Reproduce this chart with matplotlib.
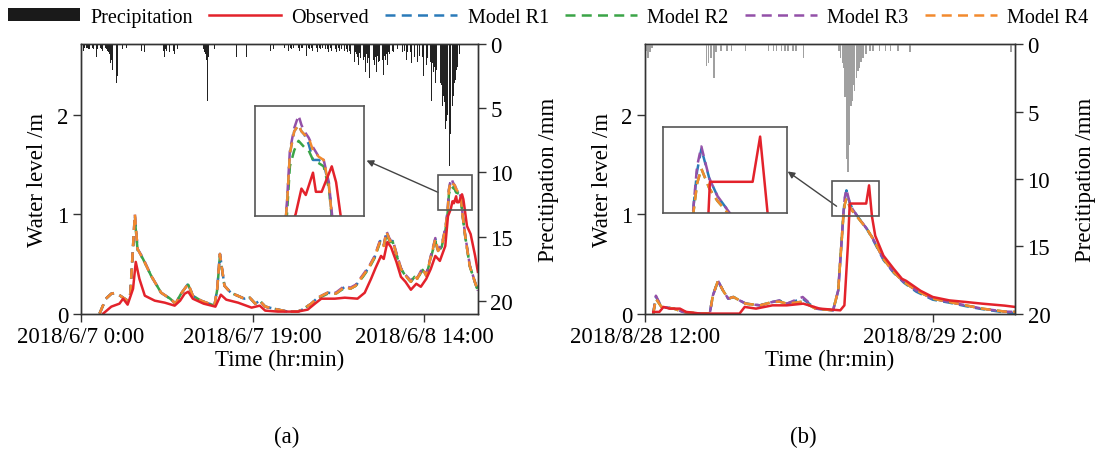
"""
Water level and precipitation for two storm events, observed vs four models.
"""
import matplotlib
matplotlib.use("Agg")
import matplotlib.pyplot as plt
from matplotlib.patches import Rectangle, Patch
from matplotlib.lines import Line2D

plt.rcParams['font.family'] = ['Liberation Serif', 'DejaVu Serif']
plt.rcParams['font.size'] = 16.5

# ---- event (a): hours after 2018/6/7 0:00 ----
a_rain_t = [0.05, 0.15, 0.3, 0.4, 0.5, 0.65, 0.8, 0.9, 1.0, 1.15, 1.3, 1.45, 1.6, 1.75,
            1.9, 2.05, 2.2, 2.35, 2.45,
            2.75, 2.9, 3.0, 3.1, 3.2, 3.3, 3.4, 3.5, 3.6, 3.7, 3.8, 3.9, 4.0, 4.1, 4.25,
            4.6, 5.1, 5.8, 6.7, 7.1,
            8.9, 9.0, 9.1, 9.2, 9.3, 9.4, 9.5, 9.65, 9.8, 9.9, 10.0, 10.1, 10.2, 10.3,
            10.4, 10.7,
            13.6, 13.7, 13.8, 13.9, 14.0, 14.1, 14.2, 14.3, 14.8,
            17.2, 18.3, 21.0, 21.3,
            22.5, 22.8, 23.0, 23.2, 23.3, 23.5, 23.6, 23.8, 23.9, 24.1, 24.2, 24.4,
            24.5, 24.7, 24.8, 25.0, 25.2, 25.3, 25.5, 25.6, 25.8, 25.9, 26.1, 26.2,
            26.4, 26.5, 26.7, 26.8, 27.0, 27.1, 27.3, 27.4, 27.6, 27.7, 27.9, 28.0,
            28.2, 28.3, 28.5, 28.6, 28.8, 28.9, 29.1, 29.2, 29.4, 29.5, 29.7, 29.8,
            30.0, 30.1, 30.2, 30.3, 30.4, 30.5, 30.6, 30.7, 30.8, 30.9, 31.0, 31.1,
            31.2, 31.3, 31.4, 31.5, 31.6, 31.7, 31.8, 31.9, 32.0, 32.1, 32.2, 32.3,
            32.4, 32.5, 32.6, 32.7, 32.8, 32.9, 33.0, 33.1, 33.2, 33.3, 33.4, 33.5,
            33.6, 33.7, 33.8, 33.9, 34.0, 34.1, 34.2, 34.3, 34.45, 34.6,
            35.0, 35.2, 35.4, 35.6, 35.8, 36.0, 36.15, 36.3, 36.45, 36.6, 36.75,
            36.9, 37.05, 37.2, 37.3, 37.45, 37.6, 37.75, 37.9, 38.05, 38.2, 38.35,
            38.5, 38.65, 38.75, 38.9, 39.0, 39.1, 39.2, 39.3, 39.4, 39.5, 39.6,
            39.7, 39.8, 39.9, 40.0, 40.1, 40.15, 40.25, 40.3, 40.4, 40.45, 40.55,
            40.6, 40.7, 40.8, 40.9, 40.95, 41.05, 41.1, 41.2, 41.25, 41.35, 41.4,
            41.5, 41.55, 41.65, 41.7, 41.85]
a_rain = [0.4, 0.3, 0.5, 0.3, 0.5, 0.3, 0.3, 0.4, 0.4, 0.3, 0.3, 0.4, 0.5, 1.0,
          0.4, 0.3, 0.3, 0.4, 0.5,
          0.3, 0.4, 0.5, 0.6, 0.8, 1.5, 1.2, 2.0, 2.5, 4.5, 7.9, 5.5, 3.0, 2.5, 0.8,
          0.4, 0.3, 0.5, 0.5, 0.6,
          0.5, 0.4, 0.6, 0.5, 1.0, 0.4, 0.5, 0.4, 0.6, 0.4, 0.4, 0.6, 1.5, 0.5,
          0.8, 0.4,
          0.4, 0.6, 0.8, 1.2, 4.4, 1.0, 0.6, 0.5, 0.4,
          1.0, 1.0, 0.5, 0.4,
          0.3, 0.3, 0.5, 0.3, 0.4, 0.3, 0.5, 0.3, 0.4, 0.3, 0.5, 0.3,
          0.3, 0.4, 0.5, 0.9, 0.3, 0.4, 0.3, 0.5, 0.3, 0.4, 0.3, 0.6,
          0.3, 0.4, 0.3, 0.5, 0.3, 0.4, 0.4, 0.6, 0.3, 0.5, 0.3, 0.4,
          0.4, 0.6, 0.3, 0.5, 0.4, 0.7, 0.4, 0.5, 0.4, 0.6, 0.5, 0.8,
          0.6, 1.0, 0.7, 1.4, 0.6, 0.8, 1.0, 1.6, 0.7, 1.1, 0.8, 2.0,
          0.9, 1.2, 1.0, 2.2, 0.8, 1.5, 1.1, 2.6, 1.2, 1.8, 1.0, 3.0,
          1.2, 1.6, 1.0, 2.2, 0.9, 1.4, 1.3, 3.5, 1.0, 1.8, 1.2, 2.4,
          0.9, 1.2, 0.8, 1.6, 0.6, 0.8, 0.5, 1.2, 0.5, 0.6,
          0.4, 0.5, 0.4, 0.6, 0.5, 1.2, 0.6, 0.8, 0.6, 1.5, 0.7,
          1.0, 0.8, 1.4, 2.0, 0.9, 1.3, 1.0, 2.5, 1.2, 1.6, 1.1,
          2.0, 1.4, 4.4, 1.5, 2.2, 1.8, 3.0, 2.0, 2.5, 2.8, 4.0,
          2.6, 3.0, 3.2, 4.8, 4.0, 5.5, 4.5, 6.6, 5.0, 6.0, 5.5,
          7.2, 6.5, 9.5, 7.0, 6.0, 5.2, 4.8, 4.0, 3.5, 3.0, 2.8,
          2.4, 2.0, 1.8, 1.5, 0.8]

a_obs_t = [2.5, 3.4, 4.3, 4.7, 5.2, 5.8, 6.1, 6.5, 7.1, 8.2, 9.3, 10.4, 11.0,
           11.5, 11.9, 12.4, 13.6, 14.9, 15.5, 16.1, 17.4, 18.9, 19.8, 20.4,
           21.8, 24.0, 25.1, 25.9, 26.6, 28.1, 29.2, 30.6, 31.4, 32.1, 32.6,
           33.2, 33.5, 33.9, 34.3, 34.9, 35.4, 35.9, 36.5, 37.1, 37.6, 38.2,
           38.7, 39.2, 39.7, 40.3, 40.6, 40.9, 41.1, 41.25, 41.5, 41.6, 41.8,
           42.15, 42.3, 42.45, 42.7, 43.1, 43.6, 43.9]
a_obs = [0.0, 0.07, 0.10, 0.15, 0.09, 0.25, 0.52, 0.35, 0.18, 0.13, 0.11, 0.08, 0.13,
         0.20, 0.22, 0.15, 0.10, 0.07, 0.19, 0.14, 0.11, 0.06, 0.08, 0.03,
         0.02, 0.02, 0.04, 0.10, 0.15, 0.15, 0.16, 0.15, 0.21, 0.35, 0.46,
         0.58, 0.55, 0.72, 0.67, 0.52, 0.37, 0.32, 0.24, 0.30, 0.27, 0.35,
         0.45, 0.58, 0.53, 0.68, 0.98, 1.05, 1.13, 1.11, 1.18, 1.12, 1.12,
         1.20, 1.15, 1.05, 0.88, 0.80, 0.58, 0.42]

a_mod_t = [2.1, 2.8, 3.4, 3.9, 4.7, 5.2, 5.5, 5.8, 6.0, 6.3, 6.9, 7.8, 8.9, 9.9,
           10.5, 11.1, 11.9, 12.4, 13.3, 14.8, 15.1, 15.4, 15.9, 16.6, 18.1,
           18.7, 19.3, 19.8, 20.4, 21.8, 22.9, 24.0, 24.5, 25.5, 26.2, 27.3,
           28.2, 29.2, 29.8, 30.4, 31.2, 31.9, 32.5, 33.1, 33.5, 33.8, 34.2,
           34.5, 34.9, 35.4, 35.9, 36.5, 36.9, 37.2, 37.8, 38.2, 38.7, 39.2,
           39.5, 39.9, 40.3, 40.5, 40.6, 40.7, 40.85, 41.0, 41.1, 41.2, 41.35,
           41.5, 41.7, 41.87, 42.05, 42.2, 42.5, 43.0, 43.6, 43.9]
a_r1 = [0.0, 0.15, 0.20, 0.21, 0.16, 0.13, 0.20, 0.68, 0.99, 0.65, 0.55, 0.38, 0.21, 0.15,
        0.10, 0.20, 0.30, 0.18, 0.13, 0.08, 0.25, 0.60, 0.28, 0.21, 0.15,
        0.16, 0.10, 0.13, 0.07, 0.04, 0.02, 0.02, 0.04, 0.10, 0.16, 0.21,
        0.20, 0.27, 0.25, 0.28, 0.38, 0.47, 0.57, 0.73, 0.68, 0.82, 0.73,
        0.73, 0.60, 0.45, 0.38, 0.32, 0.38, 0.35, 0.45, 0.38, 0.57, 0.75,
        0.63, 0.68, 0.85, 0.98, 1.08, 1.24, 1.31, 1.33, 1.31, 1.30, 1.27,
        1.22, 1.22, 1.21, 1.14, 1.00, 0.78, 0.48, 0.31, 0.23]
a_r2 = [0.0, 0.15, 0.20, 0.21, 0.16, 0.13, 0.20, 0.66, 0.95, 0.64, 0.55, 0.38, 0.21, 0.15,
        0.10, 0.20, 0.29, 0.18, 0.13, 0.08, 0.24, 0.58, 0.28, 0.21, 0.15,
        0.16, 0.10, 0.13, 0.07, 0.04, 0.02, 0.02, 0.04, 0.10, 0.15, 0.20,
        0.20, 0.26, 0.25, 0.28, 0.37, 0.46, 0.56, 0.72, 0.67, 0.80, 0.72,
        0.72, 0.59, 0.45, 0.38, 0.32, 0.37, 0.35, 0.44, 0.38, 0.56, 0.73,
        0.62, 0.67, 0.83, 0.96, 1.05, 1.20, 1.25, 1.28, 1.27, 1.26, 1.25,
        1.22, 1.21, 1.20, 1.13, 1.00, 0.78, 0.48, 0.31, 0.23]
a_r3 = [0.0, 0.15, 0.20, 0.21, 0.16, 0.13, 0.20, 0.68, 1.00, 0.65, 0.56, 0.38, 0.21, 0.15,
        0.10, 0.20, 0.30, 0.18, 0.13, 0.08, 0.25, 0.60, 0.28, 0.21, 0.15,
        0.16, 0.10, 0.13, 0.07, 0.04, 0.02, 0.02, 0.04, 0.10, 0.16, 0.21,
        0.21, 0.28, 0.26, 0.29, 0.39, 0.48, 0.58, 0.74, 0.69, 0.83, 0.74,
        0.74, 0.61, 0.46, 0.39, 0.33, 0.38, 0.36, 0.46, 0.39, 0.58, 0.76,
        0.64, 0.69, 0.86, 0.99, 1.09, 1.25, 1.32, 1.36, 1.33, 1.31, 1.29,
        1.26, 1.23, 1.22, 1.15, 1.01, 0.79, 0.49, 0.31, 0.23]
a_r4 = [0.0, 0.15, 0.20, 0.21, 0.16, 0.13, 0.20, 0.68, 1.00, 0.65, 0.55, 0.38, 0.21, 0.15,
        0.10, 0.20, 0.30, 0.18, 0.13, 0.08, 0.25, 0.60, 0.28, 0.21, 0.15,
        0.16, 0.10, 0.13, 0.07, 0.04, 0.02, 0.02, 0.04, 0.10, 0.16, 0.21,
        0.20, 0.27, 0.25, 0.28, 0.38, 0.47, 0.57, 0.73, 0.68, 0.82, 0.73,
        0.73, 0.60, 0.45, 0.38, 0.32, 0.38, 0.35, 0.45, 0.38, 0.57, 0.75,
        0.63, 0.68, 0.85, 0.98, 1.08, 1.24, 1.31, 1.33, 1.31, 1.30, 1.29,
        1.25, 1.23, 1.22, 1.14, 1.00, 0.78, 0.48, 0.31, 0.23]

# ---- event (b): hours after 2018/8/28 12:00 ----
b_rain_t = [0.05, 0.15, 0.25, 0.35,
            3.0, 3.1, 3.2, 3.35, 3.45,
            3.7, 4.0, 4.2, 4.9,
            6.0, 6.25, 6.4, 6.65, 6.8, 6.95, 7.2, 7.35, 7.7,
            9.45, 9.52, 9.6, 9.65, 9.72, 9.8, 9.87, 9.95, 10.03, 10.1, 10.15,
            10.2, 10.3, 10.35, 10.4, 10.5, 10.6, 10.75,
            10.95, 11.1, 11.4, 11.7, 11.95, 12.3, 12.9, 17.8]
b_rain = [0.5, 1.0, 0.6, 0.3,
          1.6, 1.4, 1.0, 2.5, 0.6,
          0.5, 0.5, 0.5, 0.5,
          0.5, 0.5, 0.5, 0.5, 0.5, 0.5, 0.5, 0.5, 1.0,
          0.5, 1.0, 1.4, 1.8, 3.9, 8.5, 9.5, 7.5, 4.6, 4.2, 3.0,
          3.5, 2.5, 2.0, 1.8, 1.3, 1.0, 0.7,
          0.5, 0.5, 0.5, 0.5, 0.5, 0.5, 0.6, 0.6]

b_obs_t = [0.4, 0.7, 0.9, 1.2, 1.7, 2.0, 2.7, 4.6, 4.85, 5.4, 6.2, 6.9, 7.7, 8.5,
           9.5, 9.7, 9.87, 9.96, 10.76, 10.9, 11.04, 11.2, 11.6, 12.1, 12.5,
           12.7, 13.4, 14.0, 14.8, 15.6, 16.4, 17.5, 18.0]
b_obs = [0.017, 0.017, 0.067, 0.05, 0.05, 0.017, 0.0, 0.0, 0.067, 0.05, 0.083, 0.083, 0.10, 0.05,
         0.033, 0.083, 0.683, 1.107, 1.107, 1.29, 0.98, 0.783, 0.583, 0.45, 0.35,
         0.33, 0.23, 0.167, 0.133, 0.117, 0.10, 0.08, 0.067]

b_mod_t = [0.4, 0.53, 0.8, 1.4, 1.85, 2.7, 3.15, 3.3, 3.55, 3.8, 4.05, 4.3, 4.6, 4.9,
           5.6, 6.2, 6.55, 6.9, 7.67, 8.3, 9.15, 9.4, 9.55, 9.65, 9.72, 9.8,
           9.95, 10.1, 10.3, 10.8, 11.1, 11.6, 12.1, 12.6, 13.2, 14.0, 14.8,
           15.6, 16.4, 17.5, 18.0]
b_r1 = [0.0, 0.17, 0.067, 0.05, 0.017, 0.0, 0.0, 0.18, 0.33, 0.23, 0.15, 0.167, 0.133, 0.10,
        0.083, 0.117, 0.13, 0.10, 0.15, 0.05, 0.033, 0.233, 0.683, 1.0, 1.15, 1.24,
        1.12, 1.05, 0.99, 0.85, 0.74, 0.54, 0.41, 0.31, 0.22, 0.14, 0.11,
        0.075, 0.045, 0.012, 0.005]
b_r2 = [0.0, 0.15, 0.067, 0.05, 0.017, 0.0, 0.0, 0.18, 0.33, 0.23, 0.15, 0.167, 0.133, 0.10,
        0.083, 0.117, 0.12, 0.10, 0.12, 0.05, 0.033, 0.233, 0.683, 0.98, 1.10, 1.16,
        1.08, 1.03, 0.98, 0.85, 0.75, 0.55, 0.417, 0.317, 0.233, 0.15, 0.117,
        0.083, 0.05, 0.02, 0.017]
b_r3 = [0.0, 0.18, 0.067, 0.05, 0.017, 0.0, 0.0, 0.18, 0.33, 0.23, 0.15, 0.167, 0.133, 0.10,
        0.083, 0.117, 0.133, 0.10, 0.167, 0.05, 0.033, 0.233, 0.683, 1.0, 1.17, 1.25,
        1.12, 1.05, 0.99, 0.85, 0.75, 0.55, 0.417, 0.317, 0.233, 0.15, 0.117,
        0.083, 0.05, 0.02, 0.017]
b_r4 = [0.0, 0.15, 0.067, 0.05, 0.017, 0.0, 0.0, 0.18, 0.33, 0.23, 0.15, 0.167, 0.133, 0.10,
        0.083, 0.117, 0.12, 0.10, 0.12, 0.05, 0.033, 0.233, 0.683, 0.98, 1.10, 1.16,
        1.08, 1.03, 0.98, 0.85, 0.75, 0.55, 0.417, 0.317, 0.233, 0.15, 0.117,
        0.083, 0.05, 0.02, 0.017]

a_ticks = [0, 19, 38]
a_ticklabels = ['2018/6/7 0:00', '2018/6/7 19:00', '2018/6/8 14:00']
b_ticks = [0, 14]
b_ticklabels = ['2018/8/28 12:00', '2018/8/29 2:00']

RED = '#e3222b'
MODEL_COLORS = ['#2a7ab9', '#3aa447', '#9350a8', '#f28a2e']
MODEL_NAMES = ['Model R1', 'Model R2', 'Model R3', 'Model R4']
EDGE = '#333333'


def draw_lines(ax, obs_t, obs, mod_t, models, lw=1.8):
    for vals, c in zip(models, MODEL_COLORS):
        ax.plot(mod_t, vals, color=c, lw=lw, dashes=(4, 2.5))
    ax.plot(obs_t, obs, color=RED, lw=lw)


def panel(rect, rain_t, rain, rain_color, rain_max, obs_t, obs, mod_t, models,
          xmax, ticks, ticklabels, inset_rect, box, arrow):
    ax = fig.add_axes(rect)
    draw_lines(ax, obs_t, obs, mod_t, models)
    ax.set_xlim(0, xmax)
    ax.set_ylim(0, 2.71)
    ax.set_yticks([0, 1, 2])
    ax.set_xticks(ticks)
    ax.set_xticklabels(ticklabels)
    ax.set_ylabel('Water level /m', labelpad=6)
    ax.set_xlabel('Time (hr:min)', labelpad=1)

    ax2 = ax.twinx()
    ax2.bar(rain_t, rain, width=0.075, color=rain_color, linewidth=0)
    ax2.set_ylim(rain_max, 0)
    ax2.set_yticks([0, 5, 10, 15, 20])
    ax2.set_ylabel('Precitipation /mm', labelpad=18)

    for a in (ax, ax2):
        for s in a.spines.values():
            s.set_color(EDGE)
            s.set_linewidth(1.0)
        a.tick_params(direction='out', length=6, width=1, color=EDGE, pad=3)

    # zoom box + inset
    x0, x1, y0, y1 = box
    ax.add_patch(Rectangle((x0, y0), x1 - x0, y1 - y0, fill=False,
                           ec='#555555', lw=1.2, zorder=5))
    ins = ax.inset_axes(inset_rect, transform=ax.transData)
    draw_lines(ins, obs_t, obs, mod_t, models, lw=1.8)
    ins.set_xlim(x0, x1)
    ins.set_ylim(y0, y1)
    ins.set_xticks([])
    ins.set_yticks([])
    for s in ins.spines.values():
        s.set_color('#555555')
        s.set_linewidth(1.2)
    ax.annotate('', xy=arrow[1], xytext=arrow[0],
                arrowprops=dict(arrowstyle='-|>', color='#444444', lw=1,
                                mutation_scale=10, shrinkA=0, shrinkB=0))
    return ax


fig = plt.figure(figsize=(10.96, 4.52), dpi=100)

panel([0.0735, 0.304, 0.3625, 0.596], a_rain_t, a_rain, '#222222', 21.0,
      a_obs_t, a_obs, a_mod_t, [a_r1, a_r2, a_r3, a_r4],
      43.9, a_ticks, a_ticklabels,
      [19.3, 0.985, 12.0, 1.105], (39.5, 43.26, 1.045, 1.39),
      ((39.5, 1.22), (31.6, 1.54)))

panel([0.5885, 0.304, 0.3376, 0.596], b_rain_t, b_rain, '#a0a0a0', 20.0,
      b_obs_t, b_obs, b_mod_t, [b_r1, b_r2, b_r3, b_r4],
      18.0, b_ticks, b_ticklabels,
      [0.87, 1.01, 6.03, 0.87], (9.08, 11.4, 0.98, 1.33),
      ((9.32, 1.08), (6.94, 1.43)))

fig.text(0.262, 0.033, '(a)', ha='center', va='center', fontsize=16.5)
fig.text(0.733, 0.033, '(b)', ha='center', va='center', fontsize=16.5)

handles = [Patch(facecolor='#1a1a1a', edgecolor='none'),
           Line2D([], [], color=RED, lw=1.8)]
for c in MODEL_COLORS:
    handles.append(Line2D([], [], color=c, lw=1.8, dashes=(4, 2.5)))
labels = ['Precipitation', 'Observed'] + MODEL_NAMES
fig.legend(handles, labels, loc='center', bbox_to_anchor=(0.5, 0.96), ncol=6,
           frameon=False, fontsize=14.5, handlelength=3.6, handleheight=0.6,
           handletextpad=0.5, columnspacing=0.8, borderaxespad=0)

fig.savefig('out.png', dpi=100)
